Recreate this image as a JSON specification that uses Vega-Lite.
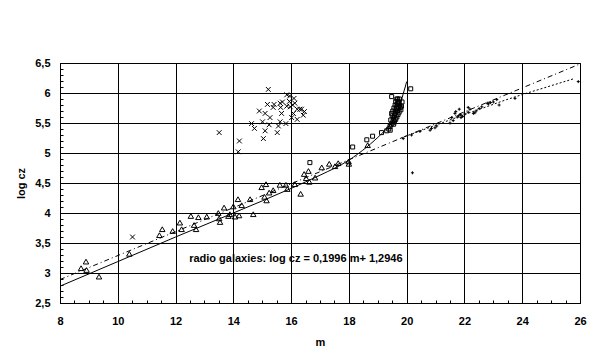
{
  "$schema": "https://vega.github.io/schema/vega-lite/v6.json",
  "width": 520,
  "height": 240,
  "autosize": "none",
  "padding": {"left": 60, "top": 63, "right": 18, "bottom": 60},
  "background": "white",
  "config": {
    "view": {"stroke": "black", "strokeWidth": 1},
    "font": "Liberation Sans",
    "axis": {
      "domainColor": "black",
      "tickColor": "black",
      "gridColor": "black",
      "gridWidth": 1,
      "labelColor": "black",
      "labelFont": "Liberation Sans",
      "labelFontWeight": "bold",
      "labelFontSize": 11,
      "titleFont": "Liberation Sans",
      "titleFontWeight": "bold",
      "titleFontSize": 11,
      "titleColor": "black",
      "tickSize": -3,
      "labelOverlap": false,
      "labelFlush": false
    }
  },
  "datasets": {
    "pts": [
      {"s": "tri", "m": 8.73, "y": 3.08}, {"s": "tri", "m": 8.9, "y": 3.19}, {"s": "tri", "m": 8.92, "y": 3.05},
      {"s": "tri", "m": 9.35, "y": 2.94}, {"s": "tri", "m": 10.4, "y": 3.32}, {"s": "tri", "m": 11.44, "y": 3.63},
      {"s": "tri", "m": 11.54, "y": 3.73}, {"s": "tri", "m": 11.9, "y": 3.7}, {"s": "tri", "m": 12.15, "y": 3.84},
      {"s": "tri", "m": 12.21, "y": 3.73}, {"s": "tri", "m": 12.53, "y": 3.95}, {"s": "tri", "m": 12.64, "y": 3.8},
      {"s": "tri", "m": 12.71, "y": 3.73}, {"s": "tri", "m": 12.79, "y": 3.93}, {"s": "tri", "m": 13.08, "y": 3.94},
      {"s": "tri", "m": 13.48, "y": 4.0}, {"s": "tri", "m": 13.51, "y": 3.91}, {"s": "tri", "m": 13.54, "y": 3.85},
      {"s": "tri", "m": 13.68, "y": 4.09}, {"s": "tri", "m": 13.83, "y": 3.95}, {"s": "tri", "m": 13.88, "y": 3.98},
      {"s": "tri", "m": 14.0, "y": 4.11}, {"s": "tri", "m": 14.06, "y": 3.94}, {"s": "tri", "m": 14.2, "y": 3.96},
      {"s": "tri", "m": 14.16, "y": 4.23}, {"s": "tri", "m": 14.29, "y": 4.13}, {"s": "tri", "m": 14.58, "y": 4.23},
      {"s": "tri", "m": 14.69, "y": 3.98}, {"s": "tri", "m": 14.98, "y": 4.43}, {"s": "tri", "m": 15.13, "y": 4.48},
      {"s": "tri", "m": 15.15, "y": 4.21}, {"s": "tri", "m": 15.08, "y": 4.27}, {"s": "tri", "m": 15.24, "y": 4.34},
      {"s": "tri", "m": 15.38, "y": 4.38}, {"s": "tri", "m": 15.61, "y": 4.47}, {"s": "tri", "m": 15.82, "y": 4.47},
      {"s": "tri", "m": 15.87, "y": 4.4}, {"s": "tri", "m": 16.13, "y": 4.48}, {"s": "tri", "m": 16.33, "y": 4.32},
      {"s": "tri", "m": 16.45, "y": 4.65}, {"s": "tri", "m": 16.52, "y": 4.58}, {"s": "tri", "m": 16.6, "y": 4.7},
      {"s": "tri", "m": 16.63, "y": 4.52}, {"s": "tri", "m": 16.83, "y": 4.59}, {"s": "tri", "m": 17.06, "y": 4.76},
      {"s": "tri", "m": 17.32, "y": 4.82}, {"s": "tri", "m": 17.52, "y": 4.78}, {"s": "tri", "m": 17.63, "y": 4.83},
      {"s": "tri", "m": 17.99, "y": 4.86}, {"s": "tri", "m": 18.0, "y": 4.82}, {"s": "tri", "m": 18.65, "y": 5.13},
      {"s": "x", "m": 10.51, "y": 3.6}, {"s": "x", "m": 13.51, "y": 5.34}, {"s": "x", "m": 14.17, "y": 5.02},
      {"s": "x", "m": 14.21, "y": 5.2}, {"s": "x", "m": 14.63, "y": 5.49}, {"s": "x", "m": 14.73, "y": 5.41},
      {"s": "x", "m": 14.9, "y": 5.7}, {"s": "x", "m": 15.01, "y": 5.52}, {"s": "x", "m": 15.04, "y": 5.24},
      {"s": "x", "m": 15.1, "y": 5.37}, {"s": "x", "m": 15.1, "y": 5.66}, {"s": "x", "m": 15.18, "y": 5.81},
      {"s": "x", "m": 15.21, "y": 6.06}, {"s": "x", "m": 15.24, "y": 5.47}, {"s": "x", "m": 15.27, "y": 5.59},
      {"s": "x", "m": 15.38, "y": 5.76}, {"s": "x", "m": 15.41, "y": 5.81}, {"s": "x", "m": 15.52, "y": 5.34},
      {"s": "x", "m": 15.56, "y": 5.45}, {"s": "x", "m": 15.62, "y": 5.52}, {"s": "x", "m": 15.62, "y": 5.83},
      {"s": "x", "m": 15.64, "y": 5.76}, {"s": "x", "m": 15.67, "y": 5.66}, {"s": "x", "m": 15.82, "y": 5.49},
      {"s": "x", "m": 15.85, "y": 5.78}, {"s": "x", "m": 15.85, "y": 5.97}, {"s": "x", "m": 15.94, "y": 5.86},
      {"s": "x", "m": 15.97, "y": 5.77}, {"s": "x", "m": 16.02, "y": 5.59}, {"s": "x", "m": 16.08, "y": 5.66},
      {"s": "x", "m": 16.1, "y": 5.91}, {"s": "x", "m": 16.13, "y": 5.83}, {"s": "x", "m": 16.21, "y": 5.56},
      {"s": "x", "m": 16.21, "y": 5.73}, {"s": "x", "m": 16.3, "y": 5.73}, {"s": "x", "m": 16.42, "y": 5.63},
      {"s": "x", "m": 16.46, "y": 5.69}, {"s": "x", "m": 15.95, "y": 5.95}, {"s": "x", "m": 16.05, "y": 5.8},
      {"s": "x", "m": 15.7, "y": 5.85}, {"s": "x", "m": 16.36, "y": 5.73},
      {"s": "sq", "m": 16.65, "y": 4.84}, {"s": "sq", "m": 18.13, "y": 5.1}, {"s": "sq", "m": 18.62, "y": 5.22},
      {"s": "sq", "m": 18.82, "y": 5.28}, {"s": "sq", "m": 19.13, "y": 5.34}, {"s": "sq", "m": 19.31, "y": 5.37},
      {"s": "sq", "m": 19.43, "y": 5.38}, {"s": "sq", "m": 19.48, "y": 5.94}, {"s": "sq", "m": 19.69, "y": 5.9},
      {"s": "sq", "m": 20.14, "y": 6.07},
      {"s": "sq", "m": 19.38, "y": 5.4}, {"s": "sq", "m": 19.42, "y": 5.44}, {"s": "sq", "m": 19.46, "y": 5.47},
      {"s": "sq", "m": 19.5, "y": 5.5}, {"s": "sq", "m": 19.53, "y": 5.54}, {"s": "sq", "m": 19.55, "y": 5.58},
      {"s": "sq", "m": 19.58, "y": 5.62}, {"s": "sq", "m": 19.6, "y": 5.66}, {"s": "sq", "m": 19.62, "y": 5.7},
      {"s": "sq", "m": 19.64, "y": 5.74}, {"s": "sq", "m": 19.66, "y": 5.78}, {"s": "sq", "m": 19.68, "y": 5.82},
      {"s": "sq", "m": 19.7, "y": 5.86}, {"s": "sq", "m": 19.72, "y": 5.84}, {"s": "sq", "m": 19.75, "y": 5.8},
      {"s": "sq", "m": 19.78, "y": 5.76}, {"s": "sq", "m": 19.8, "y": 5.72}, {"s": "sq", "m": 19.74, "y": 5.68},
      {"s": "sq", "m": 19.7, "y": 5.64}, {"s": "sq", "m": 19.66, "y": 5.6}, {"s": "sq", "m": 19.62, "y": 5.56},
      {"s": "sq", "m": 19.58, "y": 5.52}, {"s": "sq", "m": 19.55, "y": 5.48}, {"s": "sq", "m": 19.6, "y": 5.8},
      {"s": "sq", "m": 19.62, "y": 5.86}, {"s": "sq", "m": 19.66, "y": 5.9}, {"s": "sq", "m": 19.72, "y": 5.76},
      {"s": "sq", "m": 19.68, "y": 5.7}, {"s": "sq", "m": 19.5, "y": 5.62}, {"s": "sq", "m": 19.48, "y": 5.66},
      {"s": "sq", "m": 19.52, "y": 5.7}, {"s": "sq", "m": 19.56, "y": 5.75}, {"s": "sq", "m": 19.75, "y": 5.9},
      {"s": "sq", "m": 19.82, "y": 5.78}, {"s": "sq", "m": 19.84, "y": 5.85}, {"s": "sq", "m": 19.45, "y": 5.55},
      {"s": "plus", "m": 19.88, "y": 5.24}, {"s": "plus", "m": 20.17, "y": 5.3}, {"s": "plus", "m": 20.2, "y": 4.67},
      {"s": "plus", "m": 20.46, "y": 5.36}, {"s": "plus", "m": 20.81, "y": 5.38}, {"s": "plus", "m": 20.86, "y": 5.41},
      {"s": "plus", "m": 20.98, "y": 5.42}, {"s": "plus", "m": 21.04, "y": 5.45}, {"s": "plus", "m": 21.5, "y": 5.5},
      {"s": "plus", "m": 21.56, "y": 5.59}, {"s": "plus", "m": 21.61, "y": 5.54}, {"s": "plus", "m": 21.67, "y": 5.66},
      {"s": "plus", "m": 21.7, "y": 5.69}, {"s": "plus", "m": 21.82, "y": 5.73}, {"s": "plus", "m": 21.86, "y": 5.64},
      {"s": "plus", "m": 21.88, "y": 5.59}, {"s": "plus", "m": 21.94, "y": 5.61}, {"s": "plus", "m": 22.01, "y": 5.65},
      {"s": "plus", "m": 22.13, "y": 5.68}, {"s": "plus", "m": 22.13, "y": 5.76}, {"s": "plus", "m": 22.19, "y": 5.73},
      {"s": "plus", "m": 22.31, "y": 5.66}, {"s": "plus", "m": 22.36, "y": 5.67}, {"s": "plus", "m": 22.4, "y": 5.7},
      {"s": "plus", "m": 22.51, "y": 5.74}, {"s": "plus", "m": 22.6, "y": 5.77}, {"s": "plus", "m": 22.79, "y": 5.83},
      {"s": "plus", "m": 22.83, "y": 5.82}, {"s": "plus", "m": 22.9, "y": 5.84}, {"s": "plus", "m": 23.0, "y": 5.85},
      {"s": "plus", "m": 23.12, "y": 5.89}, {"s": "plus", "m": 23.2, "y": 5.8}, {"s": "plus", "m": 23.75, "y": 5.91},
      {"s": "plus", "m": 25.94, "y": 6.19}, {"s": "plus", "m": 21.8, "y": 5.62}, {"s": "plus", "m": 21.75, "y": 5.6}
    ],
    "lines": [
      {"s": "curve", "m": 8, "y": 2.78}, {"s": "curve", "m": 10, "y": 3.19}, {"s": "curve", "m": 12, "y": 3.6},
      {"s": "curve", "m": 14, "y": 4.0}, {"s": "curve", "m": 16, "y": 4.41}, {"s": "curve", "m": 17, "y": 4.63},
      {"s": "curve", "m": 18, "y": 4.88}, {"s": "curve", "m": 18.62, "y": 5.1}, {"s": "curve", "m": 19.13, "y": 5.32},
      {"s": "curve", "m": 19.42, "y": 5.47}, {"s": "curve", "m": 19.6, "y": 5.6}, {"s": "curve", "m": 19.77, "y": 5.77},
      {"s": "curve", "m": 19.87, "y": 5.97}, {"s": "curve", "m": 19.95, "y": 6.1}, {"s": "curve", "m": 20.0, "y": 6.19},
      {"s": "fit", "m": 8, "y": 2.891}, {"s": "fit", "m": 26, "y": 6.484},
      {"s": "dot", "m": 19.8, "y": 5.25}, {"s": "dot", "m": 22, "y": 5.64}, {"s": "dot", "m": 23.4, "y": 5.88},
      {"s": "dot", "m": 24.04, "y": 5.98}, {"s": "dot", "m": 25.8, "y": 6.24}
    ],
    "notes": [
      {"m": 12.47, "y": 3.24, "label": "radio galaxies: log cz = 0,1996 m+ 1,2946"}
    ]
  },
  "encoding": {
    "x": {
      "field": "m", "type": "quantitative",
      "scale": {"domain": [8, 26], "nice": false, "zero": false},
      "axis": {
        "title": "m",
        "titlePadding": 10,
        "values": [8,8.5,9,9.5,10,10.5,11,11.5,12,12.5,13,13.5,14,14.5,15,15.5,16,16.5,17,17.5,18,18.5,19,19.5,20,20.5,21,21.5,22,22.5,23,23.5,24,24.5,25,25.5,26],
        "labelExpr": "datum.value % 2 == 0 ? format(datum.value, 'd') : ''",
        "labelPadding": 15,
        "grid": true,
        "gridOpacity": {"condition": {"test": "datum.value % 2 == 0", "value": 1}, "value": 0}
      }
    },
    "y": {
      "field": "y", "type": "quantitative",
      "scale": {"domain": [2.5, 6.5], "nice": false, "zero": false},
      "axis": {
        "title": "log cz",
        "titlePadding": 8,
        "values": [2.5,2.6,2.7,2.8,2.9,3,3.1,3.2,3.3,3.4,3.5,3.6,3.7,3.8,3.9,4,4.1,4.2,4.3,4.4,4.5,4.6,4.7,4.8,4.9,5,5.1,5.2,5.3,5.4,5.5,5.6,5.7,5.8,5.9,6,6.1,6.2,6.3,6.4,6.5],
        "labelExpr": "abs(datum.value*2 - round(datum.value*2)) < 0.001 ? replace(format(datum.value, '~g'), '.', ',') : ''",
        "labelPadding": 13,
        "grid": true,
        "gridOpacity": {"condition": {"test": "abs(datum.value*2 - round(datum.value*2)) < 0.001", "value": 1}, "value": 0}
      }
    }
  },
  "layer": [
    {
      "data": {"name": "lines"},
      "transform": [{"filter": "datum.s == 'fit'"}],
      "mark": {"type": "line", "color": "black", "strokeWidth": 1, "strokeDash": [5, 3, 1, 3]}
    },
    {
      "data": {"name": "lines"},
      "transform": [{"filter": "datum.s == 'dot'"}],
      "mark": {"type": "line", "color": "black", "strokeWidth": 1, "strokeDash": [2, 2]}
    },
    {
      "data": {"name": "lines"},
      "transform": [{"filter": "datum.s == 'curve'"}],
      "mark": {"type": "line", "color": "black", "strokeWidth": 1, "interpolate": "monotone"}
    },
    {
      "data": {"name": "pts"},
      "mark": {"type": "point", "filled": false, "stroke": "black", "strokeWidth": 1, "opacity": 1},
      "encoding": {
        "shape": {
          "field": "s", "type": "nominal", "legend": null,
          "scale": {"domain": ["tri", "x", "sq", "plus"], "range": ["triangle-up", "M-1,-1L1,1M-1,1L1,-1", "square", "M-1,0L1,0M0,-1L0,1"]}
        },
        "size": {
          "field": "s", "type": "nominal", "legend": null,
          "scale": {"domain": ["tri", "x", "sq", "plus"], "range": [30, 9, 22, 36]}
        },
        "strokeWidth": {
          "field": "s", "type": "nominal", "legend": null,
          "scale": {"domain": ["tri", "x", "sq", "plus"], "range": [1, 1, 1, 1.3]}
        }
      }
    },
    {
      "data": {"name": "notes"},
      "mark": {"type": "text", "align": "left", "baseline": "middle", "font": "Liberation Sans", "fontWeight": "bold", "fontSize": 11, "color": "black"},
      "encoding": {"text": {"field": "label"}}
    }
  ]
}
